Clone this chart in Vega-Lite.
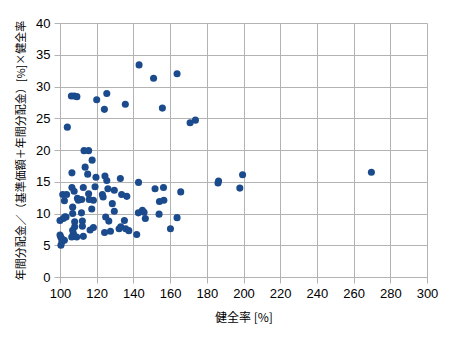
{
  "$schema": "https://vega.github.io/schema/vega-lite/v6.json",
  "autosize": "none",
  "width": 367,
  "height": 254,
  "padding": {"left": 60, "top": 23, "right": 23, "bottom": 61},
  "background": "white",
  "config": {"view": {"stroke": null}},
  "data": {"values": [
    {"x":143.1,"y":33.4},{"x":151,"y":31.3},{"x":163.8,"y":32},{"x":106.2,"y":28.5},{"x":107.8,"y":28.5},{"x":109.2,"y":28.4},
    {"x":120,"y":27.9},{"x":125.5,"y":28.9},{"x":124.2,"y":26.4},{"x":135.6,"y":27.2},{"x":155.8,"y":26.6},{"x":170.9,"y":24.3},
    {"x":173.8,"y":24.7},{"x":104,"y":23.6},{"x":113.1,"y":19.9},{"x":115.6,"y":19.9},{"x":117.5,"y":18.4},{"x":113.7,"y":17.3},
    {"x":106.5,"y":16.4},{"x":115.1,"y":16.2},{"x":119.6,"y":15.7},{"x":124.5,"y":15.9},{"x":125.5,"y":15.2},{"x":132.9,"y":15.5},
    {"x":142.8,"y":14.9},{"x":151.8,"y":13.9},{"x":156.4,"y":14.1},{"x":165.8,"y":13.4},{"x":154.2,"y":11.9},{"x":156.6,"y":12.1},
    {"x":142.7,"y":10.1},{"x":144.9,"y":10.5},{"x":145.8,"y":10.2},{"x":146.5,"y":9.2},{"x":154,"y":9.9},{"x":163.8,"y":9.35},
    {"x":160.2,"y":7.6},{"x":141.8,"y":6.7},{"x":186.4,"y":15.1},{"x":186.1,"y":14.8},{"x":199.5,"y":16.1},{"x":198,"y":14.0},
    {"x":269.7,"y":16.5},{"x":106.5,"y":14.1},{"x":107.7,"y":13.5},{"x":112.7,"y":14.1},{"x":119.1,"y":14.2},{"x":101.5,"y":13.0},
    {"x":103.6,"y":13.0},{"x":102.4,"y":12.0},{"x":110,"y":12.1},{"x":111.8,"y":12.2},{"x":115.6,"y":13.1},{"x":115.9,"y":12.2},
    {"x":118.2,"y":12.1},{"x":123.1,"y":13.0},{"x":123.5,"y":12.6},{"x":126.1,"y":13.9},{"x":129.6,"y":13.65},{"x":106.9,"y":11.0},
    {"x":117.3,"y":10.7},{"x":106.9,"y":10.0},{"x":111.7,"y":10.1},{"x":100,"y":8.9},{"x":101.8,"y":9.2},{"x":103.3,"y":9.45},
    {"x":108,"y":8.7},{"x":112.2,"y":8.8},{"x":108,"y":7.9},{"x":112.2,"y":8.0},{"x":116.4,"y":7.4},{"x":118.2,"y":7.8},
    {"x":100,"y":6.6},{"x":100.9,"y":6.05},{"x":100.5,"y":5.0},{"x":102.4,"y":5.8},{"x":106.4,"y":6.3},{"x":107.3,"y":6.9},
    {"x":109.1,"y":6.3},{"x":112.7,"y":6.4},{"x":106.9,"y":7.35},{"x":124.9,"y":9.45},{"x":126.6,"y":8.8},{"x":124.3,"y":7.0},
    {"x":127.5,"y":7.2},{"x":132.2,"y":7.6},{"x":133.1,"y":7.9},{"x":135.8,"y":7.6},{"x":137.5,"y":7.3},{"x":135.1,"y":8.9},
    {"x":133.6,"y":13.0},{"x":136.4,"y":12.7},{"x":128.5,"y":11.55},{"x":129.6,"y":10.35},{"x":100.4,"y":6.3},{"x":101,"y":5.5},
    {"x":109.5,"y":12.4},{"x":102.7,"y":9.5}
  ]},
  "mark": {"type": "circle", "size": 50, "opacity": 1, "color": "#1b4b8c"},
  "encoding": {
    "x": {
      "field": "x", "type": "quantitative",
      "scale": {"domain": [100, 300], "nice": false, "zero": false},
      "axis": {
        "values": [100,120,140,160,180,200,220,240,260,280,300],
        "title": "健全率 [%]",
        "titleFont": "Noto Sans CJK JP", "titleFontSize": 12, "titleFontWeight": "normal", "titleColor": "#000",
        "titlePadding": 12,
        "labelFont": "Liberation Sans", "labelFontSize": 13, "labelColor": "#000", "labelPadding": 4,
        "labelFlush": false, "labelOverlap": false, "labelBound": false,
        "grid": true, "gridColor": "#b3b3b3", "gridWidth": 1,
        "tickColor": "#b3b3b3", "tickSize": 6, "domainColor": "#b3b3b3"
      }
    },
    "y": {
      "field": "y", "type": "quantitative",
      "scale": {"domain": [0, 40], "nice": false},
      "axis": {
        "values": [0,5,10,15,20,25,30,35,40],
        "title": "年間分配金／（基準価額＋年間分配金）[%]×健全率",
        "titleFont": "Noto Sans CJK JP", "titleFontSize": 11, "titleFontWeight": "normal", "titleColor": "#000",
        "titlePadding": 9,
        "labelFont": "Liberation Sans", "labelFontSize": 13, "labelColor": "#000", "labelPadding": 4,
        "labelFlush": false, "labelOverlap": false, "labelBound": false,
        "grid": true, "gridColor": "#b3b3b3", "gridWidth": 1,
        "tickColor": "#b3b3b3", "tickSize": 6, "domainColor": "#b3b3b3"
      }
    }
  }
}
